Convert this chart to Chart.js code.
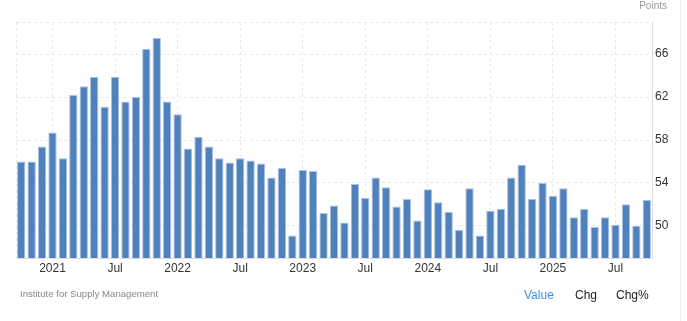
<!DOCTYPE html>
<html>
<head>
<meta charset="utf-8">
<script src="https://cdn.jsdelivr.net/npm/chart.js@4.4.1/dist/chart.umd.min.js"></script>
<style>
  html, body { margin: 0; padding: 0; background: #fff; }
  body { width: 687px; height: 321px; position: relative; overflow: hidden; font-family: Arial, "Liberation Sans", sans-serif; }
  #wrap { position: absolute; left: 0; top: 0; width: 687px; height: 321px; }
  .unit { position: absolute; right: 20px; top: 0px; font-size: 10px; color: #999; }
  .source { position: absolute; left: 20px; top: 288px; font-size: 9.6px; color: #888; }
  .tabs { position: absolute; top: 288px; font-size: 12px; color: #222; }
  .edge { position: absolute; left: 680px; top: 0; width: 1px; height: 321px; background: #eee; }
</style>
</head>
<body>
<div id="wrap"><canvas id="myChart"></canvas></div>
<div class="unit">Points</div>
<div class="source">Institute for Supply Management</div>
<div class="tabs" style="left:524px;color:#3d8ef0">Value</div>
<div class="tabs" style="left:575px">Chg</div>
<div class="tabs" style="left:616px">Chg%</div>
<div class="edge"></div>
<script>
const months = [
  '2020-10', '2020-11', '2020-12',
  '2021-01', '2021-02', '2021-03', '2021-04', '2021-05', '2021-06', '2021-07', '2021-08', '2021-09', '2021-10', '2021-11', '2021-12',
  '2022-01', '2022-02', '2022-03', '2022-04', '2022-05', '2022-06', '2022-07', '2022-08', '2022-09', '2022-10', '2022-11', '2022-12',
  '2023-01', '2023-02', '2023-03', '2023-04', '2023-05', '2023-06', '2023-07', '2023-08', '2023-09', '2023-10', '2023-11', '2023-12',
  '2024-01', '2024-02', '2024-03', '2024-04', '2024-05', '2024-06', '2024-07', '2024-08', '2024-09', '2024-10', '2024-11', '2024-12',
  '2025-01', '2025-02', '2025-03', '2025-04', '2025-05', '2025-06', '2025-07', '2025-08', '2025-09', '2025-10',
];
const pmiValues = [
  56.0, 56.0, 57.4,
  58.7, 56.3, 62.2, 63.0, 63.9, 61.1, 63.9, 61.6, 62.0, 66.5, 67.5, 61.6,
  60.4, 57.2, 58.3, 57.4, 56.3, 55.9, 56.3, 56.1, 55.8, 54.5, 55.4, 49.1,
  55.2, 55.1, 51.2, 51.9, 50.3, 53.9, 52.6, 54.5, 53.6, 51.8, 52.5, 50.5,
  53.4, 52.2, 51.3, 49.6, 53.5, 49.1, 51.4, 51.6, 54.5, 55.7, 52.5, 54.0,
  52.8, 53.5, 50.8, 51.6, 49.9, 50.8, 50.1, 52.0, 50.0, 52.4,
];
const yTicks = [50, 54, 58, 62, 66];
const yMin = 47;
const yMax = 69;

const gridColor = '#e8e8e8';

// dashed line on the left edge of the plot
const leftEdge = {
  id: 'leftEdge',
  beforeDatasetsDraw(chart) {
    const { ctx, chartArea } = chart;
    ctx.save();
    ctx.strokeStyle = gridColor;
    ctx.lineWidth = 1;
    ctx.setLineDash([3, 3]);
    ctx.beginPath();
    ctx.moveTo(chartArea.left + 0.5, chartArea.top);
    ctx.lineTo(chartArea.left + 0.5, chartArea.bottom);
    ctx.stroke();
    ctx.restore();
  },
};

const ctx = document.getElementById('myChart').getContext('2d');
const chart = new Chart(ctx, {
  type: 'bar',
  data: {
    labels: months,
    datasets: [
      {
        label: 'Points',
        data: pmiValues,
        backgroundColor: '#4f81bd',
        borderColor: '#a9c2e2',
        borderWidth: 1,
        barPercentage: 0.8,
        categoryPercentage: 1,
      },
    ],
  },
  options: {
    responsive: true,
    maintainAspectRatio: false,
    animation: false,
    layout: { padding: { left: 16, right: 7, top: 22, bottom: 41 } },
    plugins: {
      legend: { display: false },
      tooltip: { enabled: false },
    },
    scales: {
      x: {
        offset: true,
        grid: {
          offset: false,
          color: gridColor,
          drawTicks: false,
          tickLength: 0,
        },
        border: { display: true, color: '#dddddd', dash: [3, 3] },
        ticks: {
          autoSkip: false,
          maxRotation: 0,
          padding: 3,
          color: '#333',
          font: { family: 'Arial, "Liberation Sans", sans-serif', size: 12 },
          callback(value) {
            const m = this.getLabelForValue(value);
            const parts = m.split('-');
            if (parts[1] === '01') return parts[0];
            if (parts[1] === '07') return 'Jul';
            return null;
          },
        },
        afterFit(scale) { scale.height = 22; },
      },
      y: {
        position: 'right',
        min: yMin,
        max: yMax,
        afterBuildTicks(scale) {
          scale.ticks = yTicks.concat([yMax]).map((v) => ({ value: v }));
        },
        afterFit(scale) { scale.width = 28; },
        grid: {
          color: gridColor,
          drawTicks: false,
          tickLength: 0,
        },
        border: { display: true, color: '#dddddd', dash: [3, 3] },
        ticks: {
          padding: 3,
          color: '#333',
          font: { family: 'Arial, "Liberation Sans", sans-serif', size: 12 },
          callback(value) {
            return yTicks.includes(value) ? String(value) : '';
          },
        },
      },
    },
  },
  plugins: [leftEdge],
});
</script>
</body>
</html>
